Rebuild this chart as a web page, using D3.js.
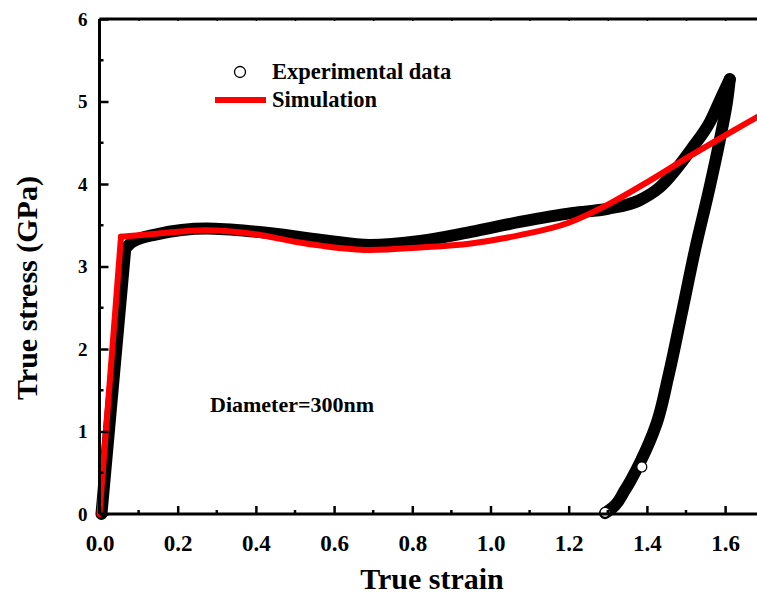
<!DOCTYPE html>
<html>
<head>
<meta charset="utf-8">
<script src="https://cdn.jsdelivr.net/npm/d3@7"></script>
<style>
  body { margin: 0; background: #fff; }
  text { font-family: "Liberation Serif", "Times New Roman", serif; font-weight: bold; fill: #000; }
</style>
</head>
<body>
<div id="chart"></div>
<script>
// experimental data (strain, stress GPa): loading up to the peak, then unloading
var expStrain = [0.005, 0.066, 0.085, 0.146, 0.274, 0.402, 0.572, 0.692, 0.82, 0.95, 1.075, 1.211, 1.30, 1.38, 1.433, 1.518, 1.561, 1.595, 1.612,
                 1.605, 1.585, 1.56, 1.523, 1.49, 1.454, 1.425, 1.382, 1.344, 1.313, 1.293];
var expStress = [0.0, 3.22, 3.30, 3.39, 3.46, 3.42, 3.32, 3.26, 3.31, 3.42, 3.54, 3.65, 3.70, 3.80, 3.96, 4.45, 4.75, 5.10, 5.27,
                 5.00, 4.50, 3.95, 3.20, 2.45, 1.65, 1.10, 0.62, 0.29, 0.08, 0.01];
// simulation curve
var simStrain = [0, 0.055, 0.1, 0.15, 0.27, 0.4, 0.5, 0.57, 0.69, 0.82, 0.95, 1.075, 1.2, 1.3, 1.4, 1.5, 1.6, 1.7];
var simStress = [0, 3.36, 3.38, 3.40, 3.44, 3.39, 3.30, 3.25, 3.20, 3.23, 3.28, 3.38, 3.53, 3.75, 4.02, 4.31, 4.59, 4.86];
// individual open markers visible on the unloading branch
var markerStrain = [1.293, 1.387];
var markerStress = [0.02, 0.57];

var xTicks = [0, 0.2, 0.4, 0.6, 0.8, 1.0, 1.2, 1.4, 1.6];
var xMinor = [0.1, 0.3, 0.5, 0.7, 0.9, 1.1, 1.3, 1.5, 1.7];
var yTicks = [0, 1, 2, 3, 4, 5, 6];
var yMinor = [0.5, 1.5, 2.5, 3.5, 4.5, 5.5];

var width = 757, height = 595;
var x = d3.scaleLinear().domain([0, 1.7]).range([99.5, 99.5 + 1.7 * 391]);
var y = d3.scaleLinear().domain([0, 6]).range([514, 19]);

var svg = d3.select("#chart").append("svg")
  .attr("width", width).attr("height", height);

svg.append("defs").append("clipPath").attr("id", "plot")
  .append("rect").attr("x", 90).attr("y", y(6)).attr("width", width).attr("height", y(0) - y(6) + 10);

var plot = svg.append("g").attr("clip-path", "url(#plot)");

var expData = expStrain.map(function (d, i) { return [d, expStress[i]]; });
var simData = simStrain.map(function (d, i) { return [d, simStress[i]]; });

// elastic part is straight, plastic part smooth; unloading is monotone in y
var peak = d3.maxIndex(expStress);
var expPieces = [
  [expData.slice(0, 2), d3.curveLinear],
  [expData.slice(1, peak + 1), d3.curveMonotoneX],
  [expData.slice(peak).reverse(), d3.curveMonotoneY]
];
var simPieces = [
  [simData.slice(0, 2), d3.curveLinear],
  [simData.slice(1), d3.curveMonotoneX]
];

function pathFor(d) {
  return d3.line()
    .x(function (p) { return x(p[0]); })
    .y(function (p) { return y(p[1]); })
    .curve(d[1])(d[0]);
}

plot.selectAll(".exp")
  .data(expPieces)
  .enter().append("path")
  .attr("class", "exp")
  .attr("d", pathFor)
  .attr("fill", "none")
  .attr("stroke", "#000")
  .attr("stroke-width", 12)
  .attr("stroke-linejoin", "round")
  .attr("stroke-linecap", "round");

plot.selectAll(".marker")
  .data(markerStrain)
  .enter().append("circle")
  .attr("class", "marker")
  .attr("cx", function (d) { return x(d); })
  .attr("cy", function (d, i) { return y(markerStress[i]); })
  .attr("r", 5)
  .attr("fill", "#fff")
  .attr("stroke", "#000")
  .attr("stroke-width", 1.2);

plot.selectAll(".sim")
  .data(simPieces)
  .enter().append("path")
  .attr("class", "sim")
  .attr("d", pathFor)
  .attr("fill", "none")
  .attr("stroke", "#ff0000")
  .attr("stroke-width", 6)
  .attr("stroke-linejoin", "round")
  .attr("stroke-linecap", "round");

// bottom axis
var xAxis = svg.append("g").attr("transform", "translate(0," + y(0) + ")")
  .call(d3.axisBottom(x).tickValues(xTicks).tickSize(-8).tickFormat(d3.format(".1f")).tickPadding(21));
xAxis.append("g").selectAll("line").data(xMinor).enter().append("line")
  .attr("x1", function (d) { return x(d); }).attr("x2", function (d) { return x(d); })
  .attr("y1", 0).attr("y2", -4);
xAxis.select(".domain").attr("d", "M" + x(0) + ",0H" + width);
xAxis.selectAll("line").attr("stroke", "#000").attr("stroke-width", 2.5);
xAxis.select(".domain").attr("stroke", "#000").attr("stroke-width", 3);
xAxis.selectAll(".tick text").attr("font-size", 23).attr("font-family", "Liberation Serif").attr("font-weight", "bold");

// top axis
var topAxis = svg.append("g").attr("transform", "translate(0," + y(6) + ")")
  .call(d3.axisTop(x).tickValues(xTicks.concat(xMinor)).tickSize(-2).tickFormat(""));
topAxis.select(".domain").attr("d", "M" + x(0) + ",0H" + width).attr("stroke-width", 3);
topAxis.selectAll("line").attr("stroke-width", 1.5);

// left axis
var yAxis = svg.append("g").attr("transform", "translate(" + x(0) + ",0)")
  .call(d3.axisLeft(y).tickValues(yTicks).tickSize(-9).tickPadding(12).tickFormat(d3.format("d")));
yAxis.append("g").selectAll("line").data(yMinor).enter().append("line")
  .attr("y1", function (d) { return y(d); }).attr("y2", function (d) { return y(d); })
  .attr("x1", 0).attr("x2", 4);
yAxis.select(".domain").attr("d", "M0," + y(0) + "V" + y(6));
yAxis.selectAll("line").attr("stroke", "#000").attr("stroke-width", 2.5);
yAxis.select(".domain").attr("stroke", "#000").attr("stroke-width", 3);
yAxis.selectAll(".tick text").attr("font-size", 19).attr("font-family", "Liberation Serif").attr("font-weight", "bold");

// axis titles
svg.append("text")
  .attr("x", 432).attr("y", 589)
  .attr("text-anchor", "middle")
  .attr("font-size", 30)
  .text("True strain");

svg.append("text")
  .attr("transform", "translate(37,288) rotate(-90)")
  .attr("text-anchor", "middle")
  .attr("font-size", 30)
  .text("True stress (GPa)");

// legend
svg.append("circle")
  .attr("cx", 240).attr("cy", 72).attr("r", 5.5)
  .attr("fill", "#fff").attr("stroke", "#000").attr("stroke-width", 1.3);
svg.append("text").attr("x", 272).attr("y", 79).attr("font-size", 22.5).text("Experimental data");
svg.append("line")
  .attr("x1", 215).attr("x2", 266).attr("y1", 100).attr("y2", 100)
  .attr("stroke", "#ff0000").attr("stroke-width", 6);
svg.append("text").attr("x", 272).attr("y", 107).attr("font-size", 22.5).text("Simulation");

svg.append("text").attr("x", 210).attr("y", 412).attr("font-size", 22).text("Diameter=300nm");
</script>
</body>
</html>
